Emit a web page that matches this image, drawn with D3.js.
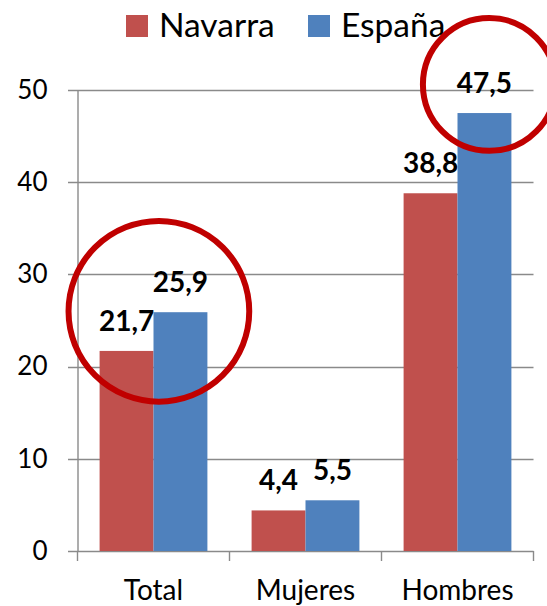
<!DOCTYPE html>
<html>
<head>
<meta charset="utf-8">
<script src="https://cdn.jsdelivr.net/npm/d3@7"></script>
<style>
  body { margin: 0; background: #fff; }
  svg { display: block; font-family: Lato, "Open Sans", sans-serif; }
</style>
</head>
<body>
<svg id="chart"></svg>
<script>
var categories = ["Total", "Mujeres", "Hombres"];
var seriesNames = ["Navarra", "España"];
var navarra = [21.7, 4.4, 38.8];
var espana = [25.9, 5.5, 47.5];
var yTicks = [0, 10, 20, 30, 40, 50];
// circled annotations: category, series, place along bar, value at centre, radius in value units
var marks = [
    {cat: "Total", ser: "Navarra", at: 1.10, val: 26.0, r: 9.8},
    {cat: "Hombres", ser: "España", at: 0.59, val: 50.6, r: 7.2}
];

var colors = {"Navarra": "#C0504D", "España": "#4F81BD"};

var screen = {width: 547, height: 606};
var svg = d3.select("#chart")
    .attr("width", screen.width)
    .attr("height", screen.height);

var x0 = d3.scaleBand()
    .domain(categories)
    .range([77.5, 533.5]);

var x1 = d3.scaleBand()
    .domain(seriesNames)
    .range([0, x0.bandwidth()])
    .paddingOuter(0.41);

var yScale = d3.scaleLinear()
    .domain([0, 50])
    .range([551, 90]);

var rows = categories.map(function(c, i) {
    return {cat: c, values: [
        {ser: "Navarra", v: navarra[i]},
        {ser: "España", v: espana[i]}
    ]};
});

// gridlines
svg.append("g")
    .selectAll("line")
    .data(yTicks)
    .enter()
    .append("line")
    .attr("x1", 68)
    .attr("x2", x0.range()[1])
    .attr("y1", function(d) { return Math.round(yScale(d)) + 0.5; })
    .attr("y2", function(d) { return Math.round(yScale(d)) + 0.5; })
    .attr("stroke", "#8a8a8a")
    .attr("stroke-width", 1.4);

// y axis
var yAxis = d3.axisLeft(yScale)
    .tickValues(yTicks)
    .tickSize(0)
    .tickPadding(30);

var ya = svg.append("g")
    .attr("transform", "translate(" + x0.range()[0] + ",0)")
    .call(yAxis);
ya.select(".domain").attr("stroke", "#8a8a8a").attr("stroke-width", 1.4);
ya.selectAll("text")
    .attr("font-size", 26)
    .attr("fill", "#000")
    .style("font-family", "Lato, sans-serif");

// x axis ticks at band edges
var edges = categories.map(function(c) { return x0(c); });
edges.push(x0.range()[1]);
svg.append("g")
    .selectAll("line")
    .data(edges)
    .enter()
    .append("line")
    .attr("x1", function(d) { return d; })
    .attr("x2", function(d) { return d; })
    .attr("y1", yScale(0))
    .attr("y2", yScale(0) + 10)
    .attr("stroke", "#8a8a8a")
    .attr("stroke-width", 1.4);

svg.append("g")
    .selectAll("text")
    .data(categories)
    .enter()
    .append("text")
    .attr("x", function(d) { return x0(d) + x0.bandwidth() / 2; })
    .attr("y", 600)
    .attr("text-anchor", "middle")
    .attr("font-size", 28)
    .text(function(d) { return d; });

// bars
var groups = svg.append("g")
    .selectAll("g")
    .data(rows)
    .enter()
    .append("g")
    .attr("transform", function(d) { return "translate(" + x0(d.cat) + ",0)"; });

groups.selectAll("rect")
    .data(function(d) { return d.values; })
    .enter()
    .append("rect")
    .attr("x", function(d) { return x1(d.ser); })
    .attr("width", x1.bandwidth())
    .attr("y", function(d) { return yScale(d.v); })
    .attr("height", function(d) { return yScale(0) - yScale(d.v); })
    .attr("fill", function(d) { return colors[d.ser]; });

groups.selectAll("text")
    .data(function(d) { return d.values; })
    .enter()
    .append("text")
    .attr("x", function(d) { return x1(d.ser) + x1.bandwidth() / 2; })
    .attr("y", function(d) { return yScale(d.v) - 20; })
    .attr("text-anchor", "middle")
    .attr("font-size", 28)
    .attr("font-weight", "bold")
    .text(function(d) { return d.v.toFixed(1).replace(".", ","); });

// legend
var legend = svg.append("g");
var legendX = [126, 308];
seriesNames.forEach(function(s, i) {
    legend.append("rect")
        .attr("x", legendX[i])
        .attr("y", 15)
        .attr("width", 22)
        .attr("height", 22)
        .attr("fill", colors[s]);
    legend.append("text")
        .attr("x", legendX[i] + 33)
        .attr("y", 37)
        .attr("font-size", 33.5)
        .text(s);
});

// red annotation circles
var pxPerUnit = yScale(0) - yScale(1);
svg.append("g")
    .selectAll("circle")
    .data(marks)
    .enter()
    .append("circle")
    .attr("cx", function(d) { return x0(d.cat) + x1(d.ser) + x1.bandwidth() * d.at; })
    .attr("cy", function(d) { return yScale(d.val); })
    .attr("r", function(d) { return d.r * pxPerUnit; })
    .attr("fill", "none")
    .attr("stroke", "#C00000")
    .attr("stroke-width", 6);
</script>
</body>
</html>
